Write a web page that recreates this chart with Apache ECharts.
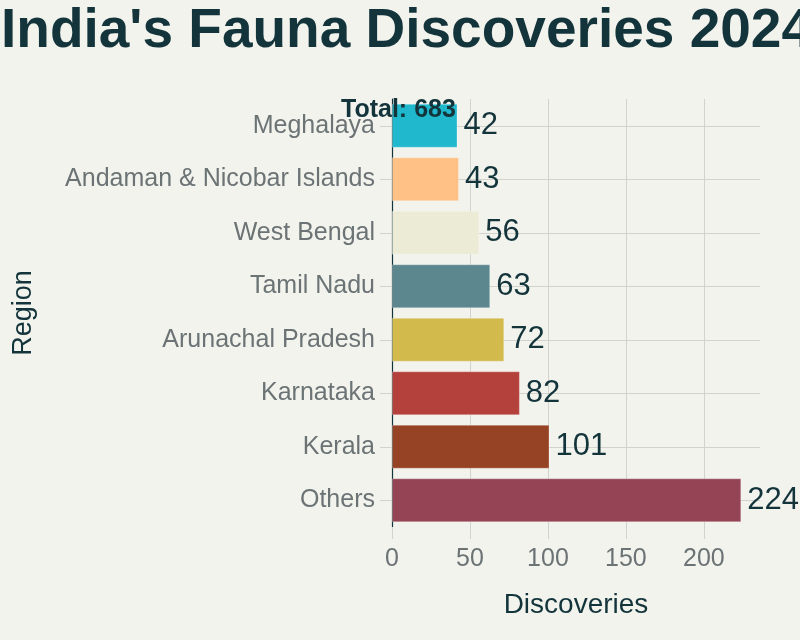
<!DOCTYPE html>
<html>
<head>
<meta charset="utf-8">
<script src="https://cdn.jsdelivr.net/npm/echarts@6/dist/echarts.min.js"></script>
<style>
  html, body { margin: 0; padding: 0; background: #F3F3EE; }
  #chart { width: 800px; height: 640px; }
</style>
</head>
<body>
<div id="chart"></div>
<script>
  // regions, top to bottom
  var regions = ['Meghalaya', 'Andaman & Nicobar Islands', 'West Bengal', 'Tamil Nadu',
    'Arunachal Pradesh', 'Karnataka', 'Kerala', 'Others'];
  var discoveries = [42, 43, 56, 63, 72, 82, 101, 224];
  var barColors = ['#1FB8CD', '#FFC185', '#ECEBD5', '#5D878F', '#D2BA4C', '#B4413C', '#964325', '#944454'];

  var total = discoveries.reduce(function (a, b) { return a + b; }, 0);
  var font = '"Liberation Sans", Arial, sans-serif';
  var grid = '#d3d3ce';

  var chart = echarts.init(document.getElementById('chart'));
  chart.setOption({
    backgroundColor: '#F3F3EE',
    animation: false,
    title: {
      text: "India's Fauna Discoveries 2024",
      left: -4,
      top: -1,
      textStyle: { color: '#13343B', fontSize: 55, fontWeight: 'bold', fontFamily: font }
    },
    grid: { left: 392, right: 40, top: 99, bottom: 113 },
    xAxis: {
      type: 'value',
      min: 0,
      max: 236,
      interval: 50,
      name: 'Discoveries',
      nameLocation: 'middle',
      nameGap: 64,
      nameTextStyle: { color: '#13343B', fontSize: 28, fontFamily: font },
      axisLine: { show: false },
      axisTick: { show: true, length: 12, lineStyle: { color: grid } },
      axisLabel: { color: '#6b7375', fontSize: 25, fontFamily: font, margin: 20, showMaxLabel: false },
      // last line is the axis end (236), which has no gridline in the reference
      splitLine: { show: true, lineStyle: { color: [grid, grid, grid, grid, grid, 'rgba(0,0,0,0)'], width: 1 } }
    },
    yAxis: {
      type: 'category',
      data: regions,
      inverse: true,
      name: 'Region',
      nameLocation: 'middle',
      nameGap: 355,
      nameTextStyle: { color: '#13343B', fontSize: 27, fontFamily: font },
      axisLine: { show: true, onZero: false, lineStyle: { color: '#13343B', width: 1.2 } },
      axisTick: { show: true, alignWithLabel: true, length: 12, lineStyle: { color: grid } },
      axisLabel: { color: '#6b7375', fontSize: 25, fontFamily: font, margin: 17 },
      splitLine: { show: true, alignWithLabel: true, lineStyle: { color: grid, width: 1 } }
    },
    series: [{
      type: 'bar',
      data: discoveries.map(function (v, i) {
        return { value: v, itemStyle: { color: barColors[i] } };
      }),
      barCategoryGap: '18%',
      itemStyle: { borderColor: 'rgba(255,255,255,0.25)', borderWidth: 1 },
      label: {
        show: true,
        position: 'right',
        distance: 6,
        color: '#13343B',
        fontSize: 31,
        fontFamily: font
      }
    }],
    graphic: [{
      type: 'text',
      left: 341,
      top: 98,
      z: 100,
      style: {
        text: 'Total: ' + total,
        fill: '#13343B',
        font: 'bold 25px ' + font
      }
    }]
  });
</script>
</body>
</html>
